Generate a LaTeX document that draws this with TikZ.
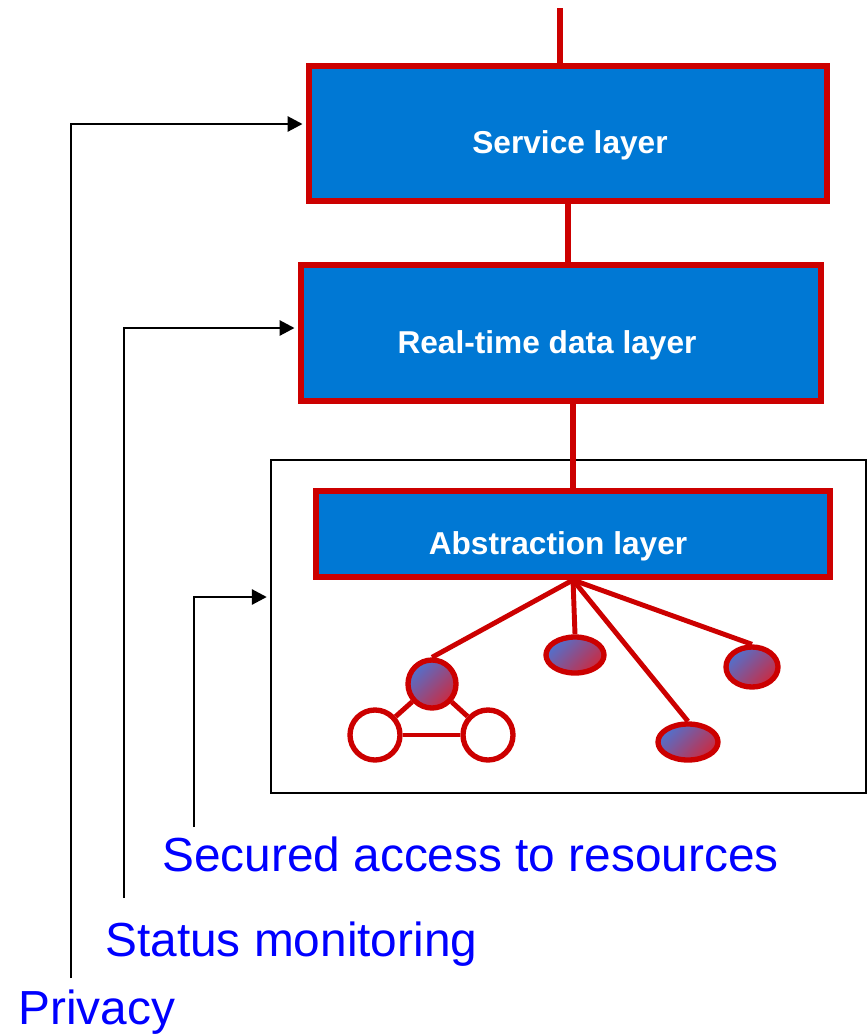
\documentclass[tikz,border=0pt]{standalone}
\usepackage{fontspec}
\setmainfont{Liberation Sans}
\usetikzlibrary{shapes.geometric, arrows.meta, positioning}
\definecolor{layerblue}{HTML}{0078D4}
\definecolor{linkred}{HTML}{CC0000}
\definecolor{noteblue}{HTML}{0000FF}
\definecolor{nodeblue}{HTML}{4F72D0}
\definecolor{nodered}{HTML}{CC2A40}

\begin{document}
\begin{tikzpicture}[x=0.025cm, y=-0.025cm,
  layer/.style={rectangle, draw=linkred, line width=4.2pt, fill=layerblue, inner sep=0pt},
  layertext/.style={text=white, font=\bfseries\fontsize{22.5}{27}\selectfont, yshift=-0.3cm},
  link/.style={draw=linkred, line width=3.8pt},
  reslink/.style={draw=linkred, line width=3.5pt},
  sensor/.style={ellipse, draw=linkred, line width=3.8pt, top color=nodeblue, bottom color=nodered, shading angle=45, inner sep=0pt},
  peer/.style={circle, draw=linkred, line width=3.8pt, fill=white, minimum size=1.25cm, inner sep=0pt},
  note/.style={text=noteblue, font=\fontsize{34}{40}\selectfont, inner sep=0pt, anchor=base west},
  feed/.style={line width=1.4pt, -{Triangle[length=0.37cm, width=0.38cm]}, shorten >=2.5pt}]
\useasboundingbox (0,0) rectangle (868,1034);

% layers
\node[layer, minimum width=12.95cm, minimum height=3.375cm, label={[layertext, xshift=0.05cm]center:Service layer}] (service) at (568,133.5) {};
\node[layer, minimum width=13cm, minimum height=3.4cm, label={[layertext, xshift=-0.35cm]center:Real-time data layer}] (realtime) at (561,333) {};
\node[draw, line width=1pt, minimum width=14.875cm, minimum height=8.325cm, inner sep=0pt] (frame) at (568.5,626.5) {};
\node[layer, minimum width=12.85cm, minimum height=2.15cm, label={[layertext, xshift=-0.375cm]center:Abstraction layer}] (abstract) at (573,534) {};

\coordinate (feedin) at (560,8);
\draw[link] (feedin) -- (feedin |- service.north);
\draw[link] (service.south) -- (service.south |- realtime.north);
\draw[link] (abstract.north |- realtime.south) -- (abstract.north);

% resources
\coordinate (hub) at (abstract.south);
\node[sensor, minimum size=1.2cm] (res1) at (432,684) {};
\node[sensor, minimum width=1.45cm, minimum height=0.9cm] (res2) at (575,655) {};
\node[sensor, minimum width=1.5cm, minimum height=0.9cm] (res3) at (688,742) {};
\node[sensor, minimum width=1.3cm, minimum height=1cm] (res4) at (752,667) {};
\node[peer] (peerl) at (375,735) {};
\node[peer] (peerr) at (488,735) {};

\foreach \r in {res1,res2,res3,res4}
  \draw[reslink] (hub) -- (\r.north);
\draw[reslink] (res1) -- (peerl);
\draw[reslink] (res1) -- (peerr);
\draw[reslink] (peerl) -- (peerr);

% functions
\node[note] (privacy) at (18,1024) {Privacy};
\node[note] (status) at (105,956) {Status monitoring};
\node[note] (secured) at (162,871) {Secured access to resources};

\coordinate (privfoot) at (71,978);
\coordinate (privbend) at (71,124);
\coordinate (statfoot) at (124,898);
\coordinate (statbend) at (124,328);
\coordinate (secfoot) at (194,827);
\coordinate (secbend) at (194,597);

\draw[feed] (privfoot) -- (privbend) -- (privbend -| service.west);
\draw[feed] (statfoot) -- (statbend) -- (statbend -| realtime.west);
\draw[feed] (secfoot) -- (secbend) -- (secbend -| frame.west);
\end{tikzpicture}
\end{document}
